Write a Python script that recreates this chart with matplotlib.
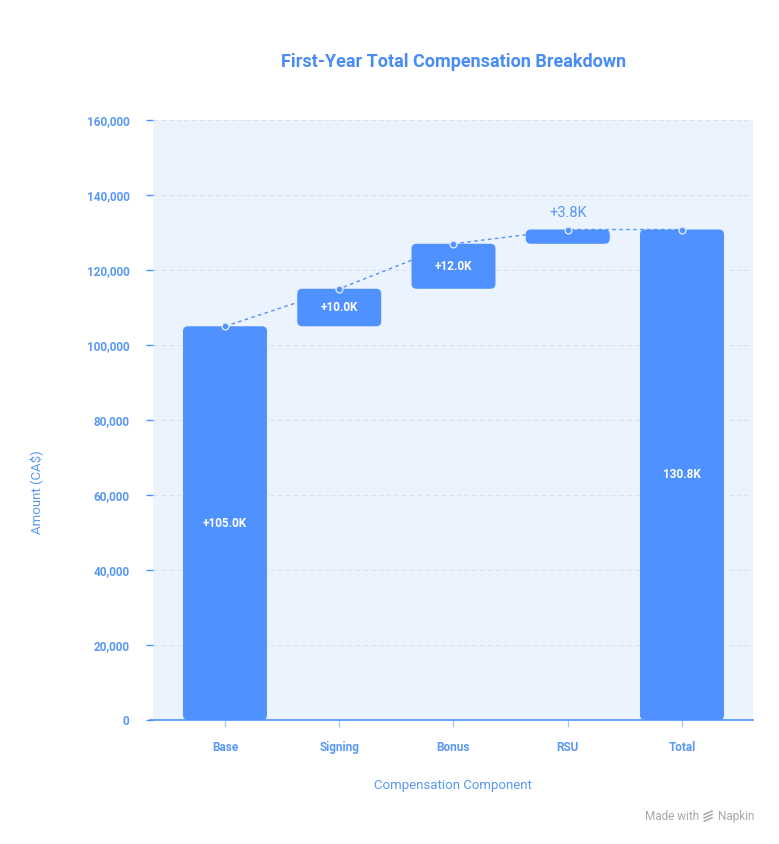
import matplotlib.pyplot as plt
from matplotlib.patches import FancyBboxPatch
from matplotlib.lines import Line2D
from matplotlib.ticker import FuncFormatter

plt.rcParams['font.family'] = ['Roboto', 'DejaVu Sans']

# data
categories = ['Base', 'Signing', 'Bonus', 'RSU', 'Total']
amounts = [105000, 10000, 12000, 3800, 130800]
labels = ['+105.0K', '+10.0K', '+12.0K', '+3.8K', '130.8K']
y_ticks = [0, 20000, 40000, 60000, 80000, 100000, 120000, 140000, 160000]

bar_color = '#4F91FF'
text_blue = '#5A98F5'
bg_color = '#EBF3FE'

fig = plt.figure(figsize=(7.79, 8.44), dpi=100)
ax = fig.add_axes([0.1964, 0.1469, 0.77, 0.7109])
ax.set_facecolor(bg_color)

x_lo, x_hi = -0.63, 4.62
y_lo, y_hi = 0, 160000
ax.set_xlim(x_lo, x_hi)
ax.set_ylim(y_lo, y_hi)

# waterfall bottoms/tops
bottoms, tops = [], []
running = 0
for i, v in enumerate(amounts):
    if i == len(amounts) - 1:
        bottoms.append(0)
        tops.append(v)
    else:
        bottoms.append(running)
        running += v
        tops.append(running)

width = 0.735
ax_w_px = 0.77 * 779
ax_h_px = 0.7109 * 844
aspect = ((y_hi - y_lo) / ax_h_px) / ((x_hi - x_lo) / ax_w_px)
rnd = 5 * (x_hi - x_lo) / ax_w_px

for i, (b, t) in enumerate(zip(bottoms, tops)):
    h = t - b
    r = min(rnd, h / aspect / 2 * 0.98)
    patch = FancyBboxPatch((i - width / 2, b), width, h,
                           boxstyle=f'round,pad=0,rounding_size={r}',
                           mutation_aspect=aspect, facecolor=bar_color,
                           edgecolor='none', zorder=3)
    ax.add_patch(patch)
    if categories[i] == 'RSU':
        ax.text(i, t + 2500, labels[i], ha='center', va='bottom',
                color=text_blue, fontsize=10.5, zorder=5)
    else:
        ax.text(i, (b + t) / 2, labels[i], ha='center', va='center',
                color='white', fontsize=8.5, fontweight='bold', zorder=5)

# connector
xs = list(range(len(categories)))
ax.plot(xs, tops, linestyle=(0, (2.5, 2.5)), color=bar_color, lw=1,
        zorder=4)
ax.scatter(xs, tops, s=24, color=bar_color, edgecolor='#DCE9FD', lw=1,
           zorder=6)

# grid & axes
ax.set_yticks(y_ticks)
ax.yaxis.set_major_formatter(FuncFormatter(lambda v, p: f'{int(v):,}'))
ax.grid(axis='y', color='#D5E3F7', linestyle=(0, (4, 3)), lw=0.8, zorder=0)
ax.set_axisbelow(True)
for s in ['top', 'right', 'left']:
    ax.spines[s].set_visible(False)
ax.spines['bottom'].set_color(bar_color)
ax.spines['bottom'].set_linewidth(1.2)
ax.spines['bottom'].set_bounds(x_lo - 0.03, x_hi)
ax.spines['bottom'].set_zorder(5)

ax.set_xticks(xs)
ax.set_xticklabels(categories)
ax.tick_params(axis='x', colors='#A8C8F5', length=5, width=1, pad=10,
               labelcolor=text_blue, labelsize=8.5)
ax.tick_params(axis='y', colors=bar_color, length=5, width=1, pad=12,
               labelcolor=text_blue, labelsize=8.5)
for t in ax.get_xticklabels() + ax.get_yticklabels():
    t.set_fontweight('bold')

ax.set_xlabel('Compensation Component', color=text_blue, fontsize=9.5,
              labelpad=18)
fig.text(0.046, 0.417, 'Amount (CA$)', rotation=90, color=text_blue,
         fontsize=9.5, ha='center', va='center')
fig.text(0.582, 0.927, 'First-Year Total Compensation Breakdown',
         ha='center', va='center', color='#4A8CF7', fontsize=13,
         fontweight='bold')

# footer with small napkin mark
fig.text(0.968, 0.033, 'Napkin', ha='right', va='center',
         color='#A8A8A8', fontsize=8.5)
fig.text(0.898, 0.033, 'Made with', ha='right', va='center',
         color='#A8A8A8', fontsize=8.5)
for dy in (-0.004, 0.0, 0.004):
    fig.add_artist(Line2D([0.904, 0.914], [0.033 + dy - 0.002, 0.033 + dy + 0.002],
                          color='#A8A8A8', lw=1.1))

fig.savefig('out.png', dpi=100)
